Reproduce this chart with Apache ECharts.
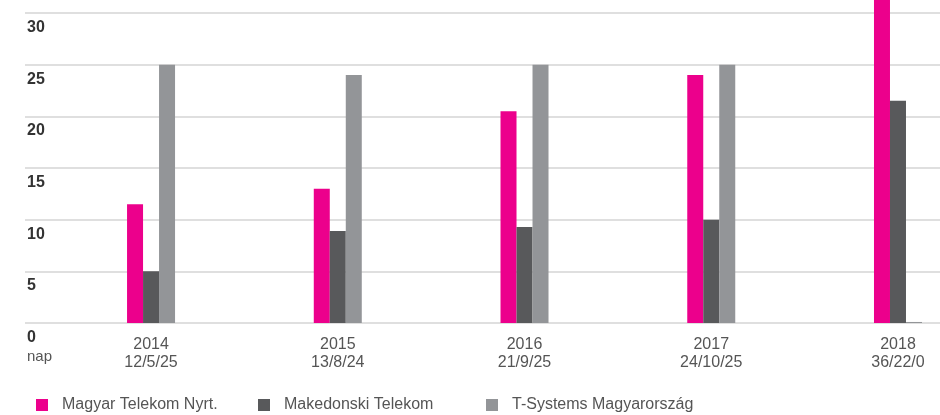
<!DOCTYPE html>
<html>
<head>
<meta charset="utf-8">
<script src="https://cdn.jsdelivr.net/npm/echarts@6/dist/echarts.min.js"></script>
<style>
  html, body { margin: 0; padding: 0; background: #fff; }
  #chart { width: 940px; height: 415px; }
</style>
</head>
<body>
<div id="chart"></div>
<script>
// categories and values
const years = ["2014", "2015", "2016", "2017", "2018"];
const subLabels = ["12/5/25", "13/8/24", "21/9/25", "24/10/25", "36/22/0"];
const magyar = [11.5, 13, 20.5, 24, 36];
const makedonski = [5, 8.9, 9.3, 10, 21.5];
const tsystems = [25, 24, 25, 25, 0.1];
const seriesNames = ["Magyar Telekom Nyrt.", "Makedonski Telekom", "T-Systems Magyarország"];
const colors = ["#ec008c", "#58595b", "#939598"];

const font = "Liberation Sans, Arial, sans-serif";
const legendLefts = [36, 258, 486];

function toPoints(arr) {
  return arr.map((v, i) => [i, v]);
}

// one legend per item so each square sits where the original has it
const legends = seriesNames.map((name, i) => ({
  left: legendLefts[i],
  top: 397,
  padding: 0,
  icon: "rect",
  itemWidth: 12,
  itemHeight: 12,
  textStyle: {
    fontSize: 16,
    color: "#555",
    fontFamily: font,
    padding: [0, 0, 0, 9],
  },
  data: [name],
}));

const chart = echarts.init(document.getElementById("chart"));
const option = {
  animation: false,
  textStyle: { fontFamily: font },
  grid: { left: 25, right: 0, top: 13, bottom: 92 },
  legend: legends,
  xAxis: {
    type: "value",
    min: -0.675,
    max: 4.225,
    splitLine: { show: false },
    axisLine: { show: false },
    axisTick: { show: false },
    axisLabel: {
      customValues: [0, 1, 2, 3, 4],
      margin: 13,
      fontSize: 16,
      lineHeight: 18,
      color: "#555",
      fontFamily: font,
      formatter: (v) => years[v] + "\n" + subLabels[v],
    },
  },
  yAxis: {
    type: "value",
    min: 0,
    max: 30,
    interval: 5,
    axisLine: { show: false },
    axisTick: { show: false },
    splitLine: { lineStyle: { color: "#d4d4d4", width: 1.5 } },
    axisLabel: {
      inside: true,
      margin: 2,
      verticalAlign: "top",
      padding: [5, 0, 0, 0],
      formatter: (v) => (v === 0 ? "{v|0}\n{n|nap}" : "{v|" + v + "}"),
      rich: {
        v: { fontSize: 16, fontWeight: "bold", color: "#333", lineHeight: 19, fontFamily: font },
        n: { fontSize: 15, color: "#555", lineHeight: 20, fontFamily: font },
      },
    },
  },
  series: [magyar, makedonski, tsystems].map((vals, i) => ({
    name: seriesNames[i],
    type: "bar",
    barWidth: 16,
    barGap: "0%",
    clip: false,
    itemStyle: { color: colors[i] },
    data: toPoints(vals),
  })),
};
chart.setOption(option);
</script>
</body>
</html>
